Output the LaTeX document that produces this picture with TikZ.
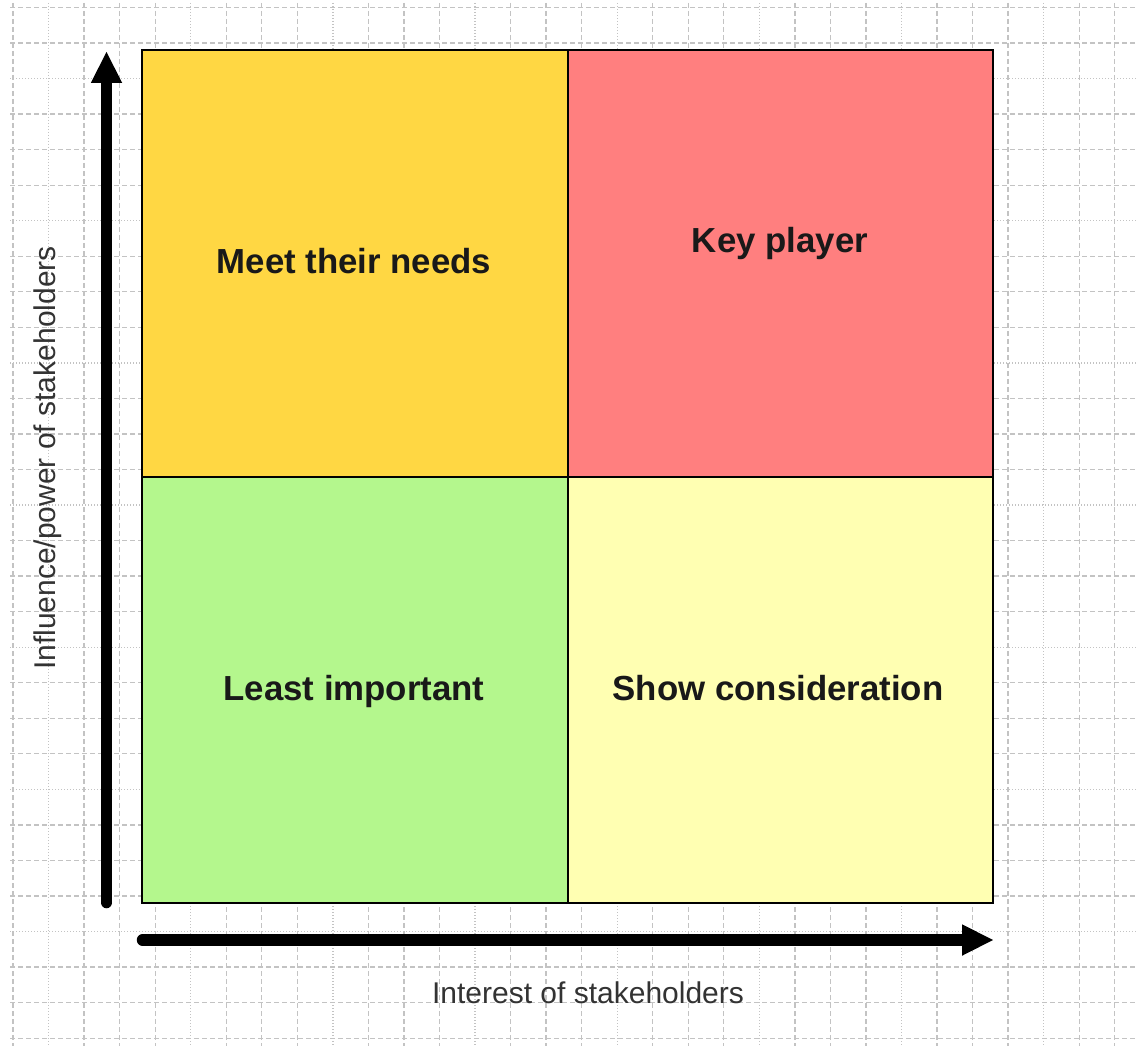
\documentclass[tikz,border=0pt]{standalone}
\usepackage{fontspec}
\setmainfont{Liberation Sans}
\usetikzlibrary{arrows.meta}
\definecolor{cmeet}{RGB}{255,215,67}
\definecolor{ckey}{RGB}{255,127,127}
\definecolor{cleast}{RGB}{180,247,141}
\definecolor{cshow}{RGB}{255,255,178}
\definecolor{cgrid}{RGB}{195,195,195}
\begin{document}
\begin{tikzpicture}[x=1pt,y=-1pt,
  gridline/.style={draw=cgrid, line width=1.3pt},
  griddash/.style={gridline, dash pattern=on 5pt off 3pt},
  griddot/.style={gridline, dash pattern=on 1.2pt off 1.8pt},
  quad/.style={draw=black, line width=2pt, inner sep=0pt, outer sep=0pt,
    minimum width=425.5pt, minimum height=426.5pt, anchor=north west},
  qlabel/.style={font=\fontsize{34.8}{40}\selectfont\bfseries, anchor=base, inner sep=0pt, text=black!90},
  axlabel/.style={font=\fontsize{30}{35}\selectfont, anchor=base, inner sep=0pt, text=black!80},
  axisarrow/.style={line width=11.5pt, line cap=round,
    -{Triangle[length=31pt,width=31.5pt,line width=0pt]}}
]
\fill[white] (0,0) rectangle (1138,1046);
\useasboundingbox (0,0) rectangle (1138,1046);
% grid
\foreach \k in {0,...,31}{
  \pgfmathsetmacro\gx{13+35.54*\k}
  \pgfmathtruncatemacro\m{mod(\k,4)}
  \ifnum\m=1
    \draw[griddot] (\gx,3) -- (\gx,1046);
  \else
    \draw[griddash] (\gx,3) -- (\gx,1046);
  \fi
}
\foreach \k in {0,...,29}{
  \pgfmathsetmacro\gy{7.5+35.54*\k}
  \pgfmathtruncatemacro\m{mod(\k,4)}
  \ifnum\m=2
    \draw[griddot] (10,\gy) -- (1138,\gy);
  \else
    \draw[griddash] (10,\gy) -- (1138,\gy);
  \fi
}
% quadrants
\node[quad, fill=cmeet]  (meet)  at (142,50) {};
\node[quad, fill=ckey]   (key)   at (567.5,50) {};
\node[quad, fill=cleast] (least) at (142,476.5) {};
\node[quad, fill=cshow]  (show)  at (567.5,476.5) {};
% labels
\node[qlabel] (tmeet)  at (354,273) {Meet their needs};
\node[qlabel] (tkey)   at (780,252) {Key player};
\node[qlabel] (tleast) at (354,700) {Least important};
\node[qlabel] (tshow)  at (778,700) {Show consideration};
% axes
\coordinate (yb) at (106.5,902.5);
\coordinate (yt) at (106.5,52);
\coordinate (xl) at (142.5,940);
\coordinate (xr) at (993,940);
\draw[axisarrow] (yb) -- (yt);
\draw[axisarrow] (xl) -- (xr);
\node[axlabel] (xlab) at (588,1003) {Interest of stakeholders};
\node[axlabel, rotate=90] (ylab) at (55,458) {Influence/power of stakeholders};
\end{tikzpicture}
\end{document}
